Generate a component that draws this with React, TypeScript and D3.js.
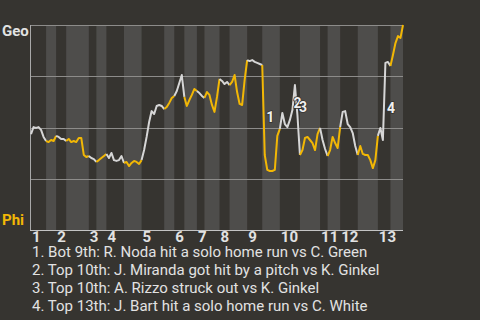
import React from 'react';
import * as d3 from 'd3';

const W = 480;
const H = 320;

const teamTop = 'Geo';
const teamBottom = 'Phi';
const inningLabels = ['1', '2', '3', '4', '5', '6', '7', '8', '9', '10', '11', '12', '13'];
// number of plays in each half-inning (top 1, bot 1, top 2, ...)
const halfInningPlays = [6, 4, 4, 9, 3, 4, 7, 7, 9, 4, 4, 5, 3, 6, 4, 7, 6, 7, 8, 8, 3, 5, 7, 8, 5, 5];
// Geo win probability (%) before the first pitch
const startProb = 46.8;
// Geo win probability (%) after each play
const winProb = [
  50.2, 49.8, 50.2, 48.8, 45.4, 43.4,
  42.9, 43.9, 43.4, 45.9,
  45.4, 44.4, 44.4, 43.4,
  44.4, 42.9, 43.4, 42.9, 44.9, 44.9, 36.6, 35.6, 36.1,
  35.1, 34.6, 33.2,
  34.1, 35.1, 36.1, 37.1,
  35.1, 37.6, 34.1, 33.7, 34.1, 36.1, 32.7,
  33.2, 31.2, 32.7, 33.7, 33.2, 32.2, 34.1,
  39.0, 45.4, 52.7, 58.0, 56.6, 60.5, 61.0, 60.5, 59.0,
  60.0, 62.0, 64.4, 65.4,
  67.8, 71.7, 75.6, 64.9,
  60.5, 63.4, 65.9, 68.8, 67.8,
  66.8, 65.4, 64.4,
  67.3, 65.9, 61.0, 57.6, 64.9, 73.7,
  72.7, 71.2, 72.2, 70.7,
  72.2, 75.6, 67.3, 61.5, 61.0, 73.2, 82.9,
  82.4, 82.9, 82.0, 81.5, 81.0, 80.5,
  36.6, 29.3, 28.8, 28.8, 29.3, 45.9, 49.3,
  57.1, 51.7, 50.2, 53.7, 58.5, 70.7, 56.1, 36.6,
  39.0, 44.9, 45.4, 43.9, 42.4, 39.0, 46.8, 49.8,
  43.9, 39.5, 36.1,
  39.0, 45.4, 42.4, 40.0, 50.2,
  57.6, 58.0, 51.7, 50.2, 47.3, 41.0, 36.6,
  41.0, 37.1, 36.6, 36.6, 34.1, 30.2, 34.1, 45.9,
  49.8, 43.9, 81.5, 82.0, 80.0,
  85.4, 91.2, 94.6, 93.7, 100,
];
const gridValues = [25, 50, 75, 100];
const eventLabels = ['1', '2', '3', '4'];
const eventPlays = [93, 105, 106, 141];
const eventTexts = [
  'Bot 9th: R. Noda hit a solo home run vs C. Green',
  'Top 10th: J. Miranda got hit by a pitch vs K. Ginkel',
  'Top 10th: A. Rizzo struck out vs K. Ginkel',
  'Top 13th: J. Bart hit a solo home run vs C. White',
];

const BG = '#363430';
const BAND = '#4e4d4b';
const YELLOW = '#f2b705';
const WHITE = '#d6d6d6';
const TEXT = '#e2e2e2';
const FONT = 'Roboto, sans-serif';

export default function App() {
  const values = [startProb, ...winProb];
  const total = winProb.length;
  const bounds = [0, ...Array.from(d3.cumsum(halfInningPlays))];

  const left = 31;
  const right = 403;
  const top = 25;
  const bottom = 230;

  const x = d3.scaleLinear().domain([0, total]).range([left, right]);
  const y = d3.scaleLinear().domain([0, 100]).range([bottom, top]);

  const line = d3
    .line<number>()
    .x((i) => x(i))
    .y((i) => y(values[i]));

  const halves = halfInningPlays.map((_, k) => ({
    k,
    start: bounds[k],
    end: bounds[k + 1],
    isBottom: k % 2 === 1,
  }));

  return (
    <svg
      width={W}
      height={H}
      style={{ position: 'absolute', left: 0, top: 0, display: 'block' }}
      fontFamily={FONT}
    >
      <rect x={0} y={0} width={W} height={H} fill={BG} />
      {halves
        .filter((h) => h.isBottom)
        .map((h) => (
          <rect
            key={'band' + h.k}
            x={x(h.start)}
            y={top}
            width={x(h.end) - x(h.start)}
            height={bottom - top}
            fill={BAND}
          />
        ))}
      {gridValues.map((g) => (
        <line
          key={'g' + g}
          x1={left - 0.5}
          x2={right}
          y1={Math.round(y(g)) + 0.5}
          y2={Math.round(y(g)) + 0.5}
          stroke="#8d8c8a"
          strokeWidth={1}
        />
      ))}
      <line x1={left - 0.5} x2={left - 0.5} y1={top} y2={bottom} stroke="#a9a9a9" strokeWidth={1} />
      <line x1={left - 1} x2={right} y1={bottom + 0.5} y2={bottom + 0.5} stroke="#c4c4c4" strokeWidth={1} />

      {halves.map((h) => (
        <path
          key={'l' + h.k}
          d={line(d3.range(h.start, h.end + 1)) || ''}
          fill="none"
          stroke={h.isBottom ? YELLOW : WHITE}
          strokeWidth={2}
          strokeLinejoin="round"
        />
      ))}

      {eventPlays.map((p, i) => (
        <text
          key={'e' + i}
          x={x(p) + (i === 1 ? -1.5 : 1.5)}
          y={(y(values[p - 1]) + y(values[p])) / 2 + (i === 1 ? 10 : 12)}
          fill="#f0f0f0"
          stroke={BG}
          strokeWidth={1.5}
          paintOrder="stroke"
          fontSize={14}
          fontWeight="bold"
        >
          {eventLabels[i]}
        </text>
      ))}

      <text x={2} y={36} fill={TEXT} fontSize={15} fontWeight="bold">
        {teamTop}
      </text>
      <text x={2} y={225} fill={YELLOW} fontSize={15} fontWeight="bold">
        {teamBottom}
      </text>

      {inningLabels.map((lab, i) => (
        <text key={'i' + lab} x={x(bounds[i * 2]) + 1} y={242} fill={TEXT} fontSize={15} fontWeight="bold">
          {lab}
        </text>
      ))}

      {eventTexts.map((t, i) => (
        <text key={'t' + i} x={32} y={257 + i * 18} fill={TEXT} fontSize={15}>
          {`${eventLabels[i]}. ${t}`}
        </text>
      ))}
    </svg>
  );
}
